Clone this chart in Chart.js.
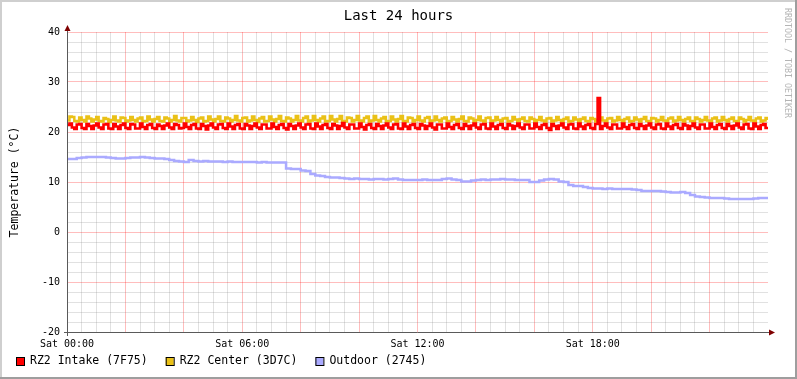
<!DOCTYPE html>
<html>
<head>
<meta charset="utf-8">
<title>Last 24 hours</title>
<script src="https://cdn.jsdelivr.net/npm/chart.js@4/dist/chart.umd.min.js"></script>
<style>
  html, body { margin: 0; padding: 0; background: #fff; }
  canvas { display: block; }
</style>
</head>
<body>
<canvas id="chart" width="797" height="379"></canvas>
<script>
// 5 minute samples, Sat 00:00 .. Sun 00:00
const intake = [
  21.4,21.7,20.9,20.6,21.5,21.6,20.8,20.6,21.6,21.2,20.6,21.3,
  21.7,20.9,20.6,21.5,21.6,20.7,20.6,21.6,21.1,20.6,21.4,21.7,
  20.8,20.6,21.6,21.5,20.7,20.7,21.7,21.0,20.6,21.4,21.6,20.8,
  20.6,21.5,21.2,20.6,21.3,21.7,20.9,20.6,21.6,21.4,20.7,20.8,
  21.7,21.0,20.6,21.4,21.6,20.7,20.6,21.6,21.2,20.5,21.3,21.7,
  20.9,20.6,21.5,21.6,20.8,20.6,21.7,21.1,20.6,21.4,21.6,20.7,
  20.6,21.6,21.3,20.6,21.2,21.7,20.9,20.6,21.5,21.5,20.7,20.7,
  21.7,21.0,20.6,21.4,21.6,20.8,20.5,21.6,21.2,20.6,21.3,21.7,
  20.9,20.6,21.5,21.6,20.7,20.6,21.7,21.1,20.6,21.4,21.6,20.8,
  20.6,21.6,21.3,20.6,21.2,21.8,20.9,20.6,21.5,21.5,20.7,20.7,
  21.7,21.0,20.5,21.4,21.6,20.8,20.6,21.6,21.2,20.6,21.3,21.7,
  20.9,20.6,21.5,21.6,20.7,20.6,21.7,21.1,20.6,21.4,21.6,20.8,
  20.6,21.6,21.3,20.6,21.2,21.7,20.9,20.5,21.5,21.5,20.7,20.7,
  21.7,21.0,20.6,21.4,21.6,20.8,20.6,21.6,21.2,20.6,21.3,21.7,
  20.9,20.6,21.5,21.6,20.7,20.6,21.7,21.1,20.6,21.4,21.6,20.8,
  20.6,21.6,21.3,20.6,21.2,21.7,20.9,20.6,21.5,21.5,20.7,20.7,
  21.7,21.0,20.6,21.4,21.6,20.8,20.4,21.6,21.2,20.6,21.3,21.7,
  20.9,20.6,21.5,21.6,20.7,20.6,21.7,21.1,20.6,21.4,21.6,20.8,
  20.6,21.6,26.8,20.6,21.2,21.7,20.9,20.6,21.5,21.5,20.7,20.7,
  21.7,21.0,20.6,21.4,21.6,20.8,20.6,21.6,21.2,20.6,21.3,21.7,
  20.9,20.6,21.5,21.6,20.7,20.6,21.7,21.1,20.6,21.4,21.6,20.8,
  20.6,21.6,21.3,20.6,21.2,21.7,20.9,20.6,21.5,21.5,20.7,20.7,
  21.7,21.0,20.6,21.4,21.6,20.8,20.6,21.6,21.2,20.6,21.3,21.7,
  20.9,20.6,21.5,21.6,20.7,20.6,21.7,21.1,20.6,21.4,21.6,20.8,
  21.0
];

const center = [
  22.3,23.1,23.0,22.2,22.1,22.9,22.4,22.1,23.1,22.7,22.1,22.5,
  23.0,22.2,22.1,22.8,22.6,22.0,22.4,23.1,22.3,22.1,22.9,22.8,
  22.1,22.3,23.0,22.4,22.1,22.7,22.9,22.1,22.2,23.1,22.5,22.1,
  22.6,23.0,22.2,22.1,22.9,22.7,22.1,22.4,23.2,22.3,22.1,22.8,
  22.8,22.1,22.3,23.0,22.4,22.0,22.7,22.9,22.1,22.2,23.1,22.5,
  22.1,22.6,23.1,22.2,22.1,22.9,22.7,22.1,22.4,23.2,22.3,22.1,
  22.8,22.9,22.1,22.3,23.1,22.4,22.0,22.7,23.0,22.1,22.2,23.1,
  22.5,22.1,22.6,23.2,22.2,22.1,22.9,22.7,22.1,22.4,23.2,22.3,
  22.1,22.8,23.1,22.1,22.3,23.2,22.4,22.1,22.7,23.1,22.1,22.2,
  23.2,22.5,22.1,22.6,23.2,22.2,22.1,22.9,22.8,22.1,22.4,23.2,
  22.3,22.1,22.8,23.1,22.1,22.3,23.2,22.4,22.1,22.7,23.0,22.1,
  22.2,23.1,22.5,22.1,22.6,23.2,22.2,22.1,22.9,22.8,22.1,22.4,
  23.1,22.3,22.1,22.8,23.0,22.1,22.3,23.1,22.4,22.1,22.7,22.9,
  22.1,22.2,23.0,22.5,22.1,22.6,23.1,22.2,22.1,22.9,22.7,22.1,
  22.4,23.1,22.3,22.1,22.8,22.9,22.1,22.3,23.0,22.4,22.1,22.7,
  22.8,22.1,22.2,23.0,22.5,22.1,22.6,22.9,22.2,22.1,22.9,22.6,
  22.1,22.4,23.0,22.3,22.1,22.7,22.8,22.1,22.3,23.0,22.4,22.1,
  22.6,22.9,22.1,22.2,22.9,22.5,22.1,22.6,22.9,22.2,22.1,22.8,
  22.6,22.1,22.4,22.9,22.3,22.1,22.7,22.8,22.1,22.3,23.0,22.4,
  22.1,22.6,22.9,22.1,22.2,22.9,22.5,22.1,22.6,23.0,22.2,22.1,
  22.8,22.7,22.1,22.4,23.0,22.3,22.1,22.7,22.9,22.1,22.3,23.0,
  22.4,22.1,22.6,22.9,22.2,22.1,22.9,22.6,22.1,22.4,23.0,22.3,
  22.1,22.7,22.9,22.1,22.3,23.0,22.4,22.1,22.6,22.9,22.2,22.1,
  22.9,22.6,22.1,22.4,23.0,22.3,22.1,22.7,22.9,22.1,22.3,22.8,
  22.4
];

// 10 minute samples
const outdoor = [
  14.6,14.6,14.8,14.9,15.0,15.0,
  15.0,15.0,14.9,14.8,14.7,14.7,
  14.8,14.9,14.9,15.0,14.9,14.8,
  14.7,14.7,14.6,14.4,14.2,14.1,
  14.0,14.4,14.2,14.1,14.2,14.1,
  14.1,14.1,14.0,14.1,14.0,14.0,
  14.0,14.0,14.0,13.9,14.0,13.9,
  13.9,13.9,13.9,12.7,12.6,12.6,
  12.3,12.2,11.6,11.3,11.2,11.0,
  10.9,10.9,10.8,10.7,10.6,10.7,
  10.6,10.6,10.5,10.6,10.6,10.5,
  10.6,10.7,10.5,10.4,10.4,10.4,
  10.4,10.5,10.4,10.4,10.4,10.6,
  10.7,10.5,10.4,10.1,10.1,10.3,
  10.4,10.5,10.4,10.5,10.5,10.6,
  10.5,10.5,10.4,10.4,10.4,10.0,
  10.0,10.3,10.5,10.6,10.5,10.1,
  10.0,9.4,9.2,9.2,9.0,8.8,
  8.7,8.7,8.6,8.7,8.6,8.6,
  8.6,8.6,8.5,8.4,8.2,8.2,
  8.2,8.2,8.1,8.0,7.9,7.9,
  8.0,7.8,7.4,7.1,7.0,6.9,
  6.8,6.8,6.8,6.7,6.6,6.6,
  6.6,6.6,6.6,6.7,6.8,6.8,
  6.8
];

const seriesNames = ['RZ2 Intake (7F75)', 'RZ2 Center (3D7C)', 'Outdoor (2745)'];
const seriesColors = ['#FF0000', '#EAC117', '#AAAAFF'];

const xTickHours = [0, 6, 12, 18];
const xTickLabels = ['Sat 00:00', 'Sat 06:00', 'Sat 12:00', 'Sat 18:00'];
const yTickValues = [-20, -10, 0, 10, 20, 30, 40];
const yTickLabels = ['-20', '-10', '0', '10', '20', '30', '40'];

const MONO = "'DejaVu Sans Mono', monospace";
const MAJOR = 'rgba(255, 0, 0, 0.26)';
const MINOR = 'rgba(128, 128, 128, 0.24)';

function toPoints(values, minutes) {
  return values.map((v, i) => ({ x: i * minutes / 60, y: v }));
}

function near(a, b) {
  return Math.abs(a - b) < 1e-6;
}

// frame, title, legend, watermark and axis arrows the way rrdtool draws them
const rrdDecor = {
  id: 'rrdDecor',
  beforeDraw(chart) {
    const { ctx, width, height } = chart;
    ctx.save();
    ctx.fillStyle = '#ffffff';
    ctx.fillRect(0, 0, width, height);
    ctx.fillStyle = '#cfcfcf';
    ctx.fillRect(0, 0, width, 2);
    ctx.fillRect(0, 0, 2, height);
    ctx.fillStyle = '#9e9e9e';
    ctx.fillRect(width - 2, 0, 2, height);
    ctx.fillRect(0, height - 2, width, 2);
    ctx.restore();
  },
  afterDraw(chart) {
    const { ctx, chartArea: a } = chart;
    ctx.save();
    ctx.fillStyle = '#000';
    ctx.font = '14px ' + MONO;
    ctx.textAlign = 'center';
    ctx.textBaseline = 'middle';
    ctx.fillText('Last 24 hours', chart.width / 2, 16);

    // legend
    ctx.font = '11.5px ' + MONO;
    ctx.textAlign = 'left';
    let x = 16;
    seriesNames.forEach((name, i) => {
      ctx.fillStyle = seriesColors[i];
      ctx.fillRect(x, 357, 8, 8);
      ctx.strokeStyle = '#000';
      ctx.lineWidth = 1;
      ctx.strokeRect(x + 0.5, 357.5, 8, 8);
      ctx.fillStyle = '#000';
      ctx.fillText(name, x + 14, 361.5);
      x += 14 + ctx.measureText(name).width + 18;
    });

    ctx.fillStyle = '#b4b4b4';
    ctx.font = '8.3px ' + MONO;
    ctx.translate(787.5, 8);
    ctx.rotate(Math.PI / 2);
    ctx.fillText('RRDTOOL / TOBI OETIKER', 0, 0);
    ctx.restore();

    ctx.save();
    ctx.strokeStyle = '#5a5a5a';
    ctx.lineWidth = 1;
    const ax = Math.round(a.left) + 0.5;
    const ay = Math.round(a.bottom) + 0.5;
    ctx.beginPath();
    ctx.moveTo(a.left - 3, ay);
    ctx.lineTo(a.right + 3, ay);
    ctx.moveTo(ax, a.bottom + 4);
    ctx.lineTo(ax, a.top - 3);
    ctx.stroke();
    ctx.fillStyle = '#7F0000';
    ctx.beginPath();
    ctx.moveTo(ax, a.top - 7);
    ctx.lineTo(ax - 3, a.top - 1);
    ctx.lineTo(ax + 3, a.top - 1);
    ctx.closePath();
    ctx.fill();
    ctx.beginPath();
    ctx.moveTo(a.right + 7, ay);
    ctx.lineTo(a.right + 1, ay - 3);
    ctx.lineTo(a.right + 1, ay + 3);
    ctx.closePath();
    ctx.fill();
    ctx.restore();
  }
};

function lineSet(i, data, width) {
  return {
    label: seriesNames[i],
    data: data,
    borderColor: seriesColors[i],
    backgroundColor: seriesColors[i],
    borderWidth: width,
    pointRadius: 0,
    stepped: true,
    fill: false,
  };
}

new Chart(document.getElementById('chart'), {
  type: 'line',
  data: {
    datasets: [
      lineSet(0, toPoints(intake, 5), 2.6),
      lineSet(1, toPoints(center, 5), 2.5),
      lineSet(2, toPoints(outdoor, 10), 2.5),
    ],
  },
  options: {
    responsive: false,
    animation: false,
    devicePixelRatio: 1,
    layout: {
      padding: { left: 0, right: 29, top: 32, bottom: 27 },
    },
    plugins: {
      title: { display: false },
      legend: { display: false },
      tooltip: { enabled: false },
    },
    scales: {
      x: {
        type: 'linear',
        min: 0,
        max: 24,
        afterFit: (scale) => { scale.height = 20; },
        border: { display: false },
        grid: {
          drawTicks: false,
          color: (ctx) => {
            const v = ctx.tick.value;
            if (v >= 24) return 'rgba(0,0,0,0)';
            return near(v / 2, Math.round(v / 2)) ? MAJOR : MINOR;
          },
        },
        ticks: {
          stepSize: 0.5,
          autoSkip: false,
          maxRotation: 0,
          padding: 6,
          color: '#000',
          font: { family: MONO, size: 10 },
          callback: (v) => {
            const i = xTickHours.findIndex((h) => near(h, v));
            return i >= 0 ? xTickLabels[i] : '';
          },
        },
      },
      y: {
        min: -20,
        max: 40,
        afterFit: (scale) => { scale.width = 67; },
        border: { display: false },
        grid: {
          drawTicks: false,
          color: (ctx) => (ctx.tick.value % 10 === 0 ? MAJOR : MINOR),
        },
        title: {
          display: true,
          text: 'Temperature (°C)',
          color: '#000',
          font: { family: MONO, size: 11.5 },
          padding: { top: 8, bottom: 0 },
        },
        ticks: {
          stepSize: 2,
          autoSkip: false,
          padding: 7,
          color: '#000',
          font: { family: MONO, size: 10 },
          callback: (v) => {
            const i = yTickValues.indexOf(v);
            return i >= 0 ? yTickLabels[i] : '';
          },
        },
      },
    },
  },
  plugins: [rrdDecor],
});
</script>
</body>
</html>
